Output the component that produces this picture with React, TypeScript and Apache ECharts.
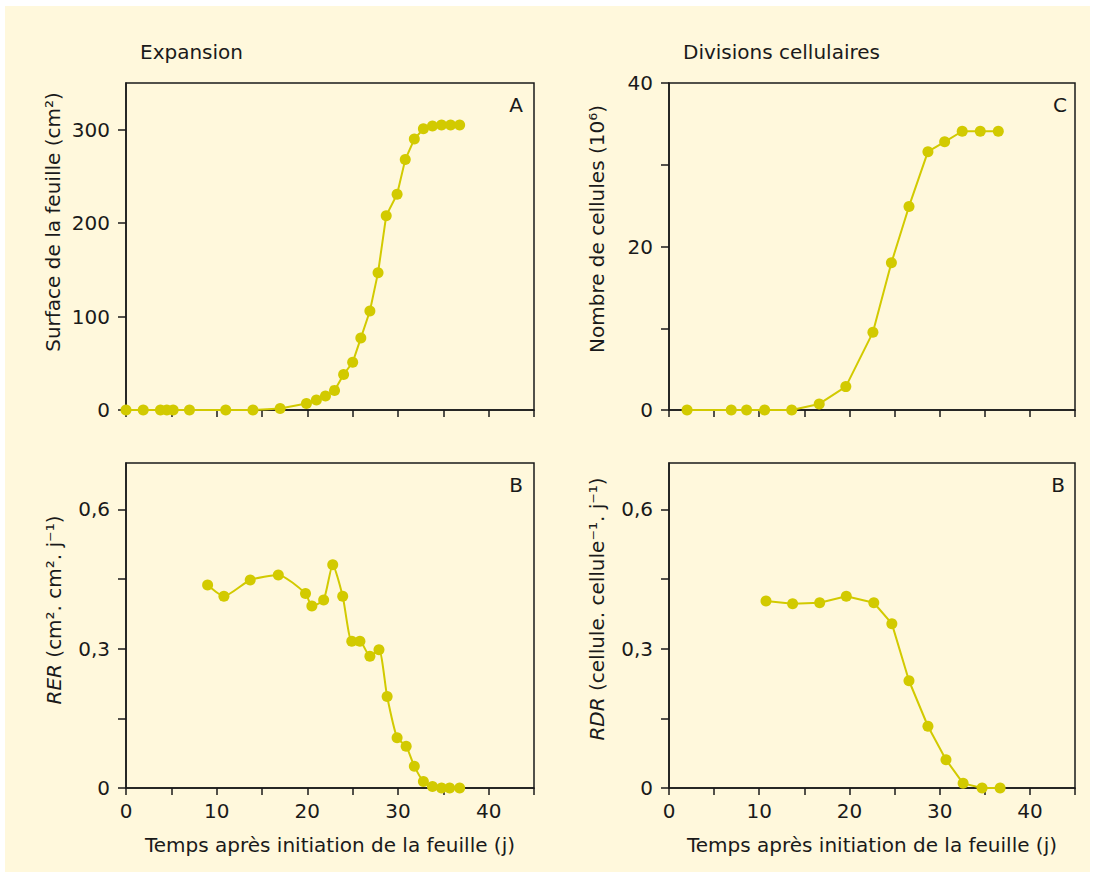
import React, { useEffect, useRef } from "react";
import * as echarts from "echarts";

// ---- Data ----
const expDays = [0, 1.9, 3.8, 4.5, 5.2, 7, 11, 14, 17, 19.9, 21, 22, 23, 24, 25, 25.9, 26.9, 27.8, 28.7, 29.9, 30.8, 31.8, 32.8, 33.8, 34.8, 35.8, 36.8];
const surface = [0, 0, 0, 0, 0, 0, 0, 0, 1.5, 7, 10.7, 15, 21, 38, 51, 77, 106, 147, 208, 231, 268, 290, 301, 304, 305, 305, 305];

const rerDays = [9, 10.8, 13.7, 16.8, 19.8, 20.5, 21.8, 22.8, 23.9, 24.9, 25.8, 26.9, 27.9, 28.8, 29.9, 30.9, 31.8, 32.8, 33.8, 34.8, 35.7, 36.8];
const rer = [0.437, 0.413, 0.448, 0.459, 0.419, 0.392, 0.405, 0.481, 0.413, 0.316, 0.316, 0.284, 0.298, 0.197, 0.108, 0.09, 0.047, 0.014, 0.003, 0, 0, 0];

const cellDays = [2, 6.9, 8.6, 10.6, 13.6, 16.65, 19.6, 22.6, 24.65, 26.6, 28.7, 30.55, 32.5, 34.5, 36.5];
const cells = [0, 0, 0, 0, 0, 0.74, 2.86, 9.5, 18.0, 24.9, 31.6, 32.8, 34.1, 34.1, 34.1];

const rdrDays = [10.75, 13.7, 16.7, 19.65, 22.7, 24.7, 26.6, 28.7, 30.7, 32.6, 34.7, 36.7];
const rdr = [0.403, 0.397, 0.399, 0.413, 0.399, 0.354, 0.231, 0.133, 0.061, 0.01, 0, 0];

const xTicks = [0, 5, 10, 15, 20, 25, 30, 35, 40, 45];
const xLabels = [0, 10, 20, 30, 40];
const surfTicks = [0, 100, 200, 300];
const cellTicks = [0, 10, 20, 30, 40];
const cellLabels = [0, 20, 40];
const rateTicks = [0, 0.15, 0.3, 0.45, 0.6];
const rateLabels = [0, 0.3, 0.6];

const FONT = '"DejaVu Sans", sans-serif';
const INK = "#1a1a1a";
const MARK = "#D2CA00";

const grids = [
  { left: 126, top: 83, width: 408, height: 327 },
  { left: 669, top: 83, width: 406, height: 327 },
  { left: 126, top: 463, width: 408, height: 325 },
  { left: 669, top: 463, width: 406, height: 325 },
];

function xAxis(gridIndex: number, showLabels: boolean) {
  return {
    type: "value",
    gridIndex,
    min: 0,
    max: 45,
    interval: 5,
    axisLine: { show: true, lineStyle: { color: INK, width: 1.5 } },
    axisTick: { show: true, inside: false, length: 7, lineStyle: { color: INK, width: 1.5 }, customValues: xTicks },
    axisLabel: {
      show: showLabels,
      customValues: xLabels,
      margin: 13,
      fontFamily: FONT,
      fontSize: 20,
      color: INK,
    },
    splitLine: { show: false },
  };
}

function yAxis(gridIndex: number, max: number, ticks: number[], labels: number[]) {
  return {
    type: "value",
    gridIndex,
    min: 0,
    max,
    axisLine: { show: true, lineStyle: { color: INK, width: 1.5 } },
    axisTick: { show: true, inside: false, length: 8, lineStyle: { color: INK, width: 1.5 }, customValues: ticks },
    axisLabel: {
      show: true,
      customValues: labels,
      margin: 16,
      fontFamily: FONT,
      fontSize: 20,
      color: INK,
      formatter: (v: number) => String(v).replace(".", ","),
    },
    splitLine: { show: false },
  };
}

function series(i: number, xs: number[], ys: number[], smooth: number | boolean = false) {
  return {
    type: "line",
    xAxisIndex: i,
    yAxisIndex: i,
    data: xs.map((x, k) => [x, ys[k]]),
    symbol: "circle",
    symbolSize: 11,
    smooth,
    lineStyle: { color: MARK, width: 2 },
    itemStyle: { color: MARK },
    clip: false,
  };
}

function txt(x: number, y: number, text: string, extra: any = {}) {
  return {
    type: "text",
    x,
    y,
    silent: true,
    style: {
      text,
      fontFamily: FONT,
      fontSize: 20,
      fill: INK,
      textAlign: "center",
      textVerticalAlign: "middle",
      ...extra,
    },
  };
}

function vtxt(x: number, y: number, text: string, rich?: any) {
  return {
    type: "text",
    x,
    y,
    rotation: Math.PI / 2,
    silent: true,
    style: {
      text,
      fontFamily: FONT,
      fontSize: 20,
      fill: INK,
      textAlign: "center",
      textVerticalAlign: "middle",
      rich,
    },
  };
}

const italicRich = { i: { fontFamily: FONT, fontSize: 20, fontStyle: "italic", fill: INK } };

const option = {
  animation: false,
  backgroundColor: "transparent",
  grid: grids.map((g) => ({ ...g, show: true, borderColor: INK, borderWidth: 1.5, backgroundColor: "transparent" })),
  xAxis: [xAxis(0, false), xAxis(1, false), xAxis(2, true), xAxis(3, true)],
  yAxis: [
    yAxis(0, 350, surfTicks, surfTicks),
    yAxis(1, 40, cellTicks, cellLabels),
    yAxis(2, 0.7, rateTicks, rateLabels),
    yAxis(3, 0.7, rateTicks, rateLabels),
  ],
  series: [
    series(0, expDays, surface),
    series(1, cellDays, cells),
    series(2, rerDays, rer, 0.2),
    series(3, rdrDays, rdr),
  ],
  graphic: [
    txt(140, 52, "Expansion", { textAlign: "left" }),
    txt(683, 52, "Divisions cellulaires", { textAlign: "left" }),
    txt(516, 105, "A"),
    txt(1060, 105, "C"),
    txt(516, 485, "B"),
    txt(1058, 485, "B"),
    vtxt(53, 222, "Surface de la feuille (cm²)"),
    vtxt(597, 229, "Nombre de cellules (10⁶)"),
    vtxt(54, 610, "{i|RER} (cm². cm². j⁻¹)", italicRich),
    vtxt(597, 609, "{i|RDR} (cellule. cellule⁻¹. j⁻¹)", italicRich),
    txt(330, 845, "Temps après initiation de la feuille (j)"),
    txt(872, 845, "Temps après initiation de la feuille (j)"),
  ],
};

export default function App() {
  const ref = useRef<HTMLDivElement>(null);
  useEffect(() => {
    const chart = echarts.init(ref.current!, null, { renderer: "svg" });
    chart.setOption(option as any);
    return () => chart.dispose();
  }, []);
  return (
    <div style={{ position: "fixed", left: 0, top: 0, width: 1093, height: 878, background: "#ffffff" }}>
      <div style={{ position: "absolute", left: 5, top: 6, width: 1085, height: 866, background: "#FFF8DC" }} />
      <div ref={ref} style={{ position: "absolute", left: 0, top: 0, width: 1093, height: 878 }} />
    </div>
  );
}
